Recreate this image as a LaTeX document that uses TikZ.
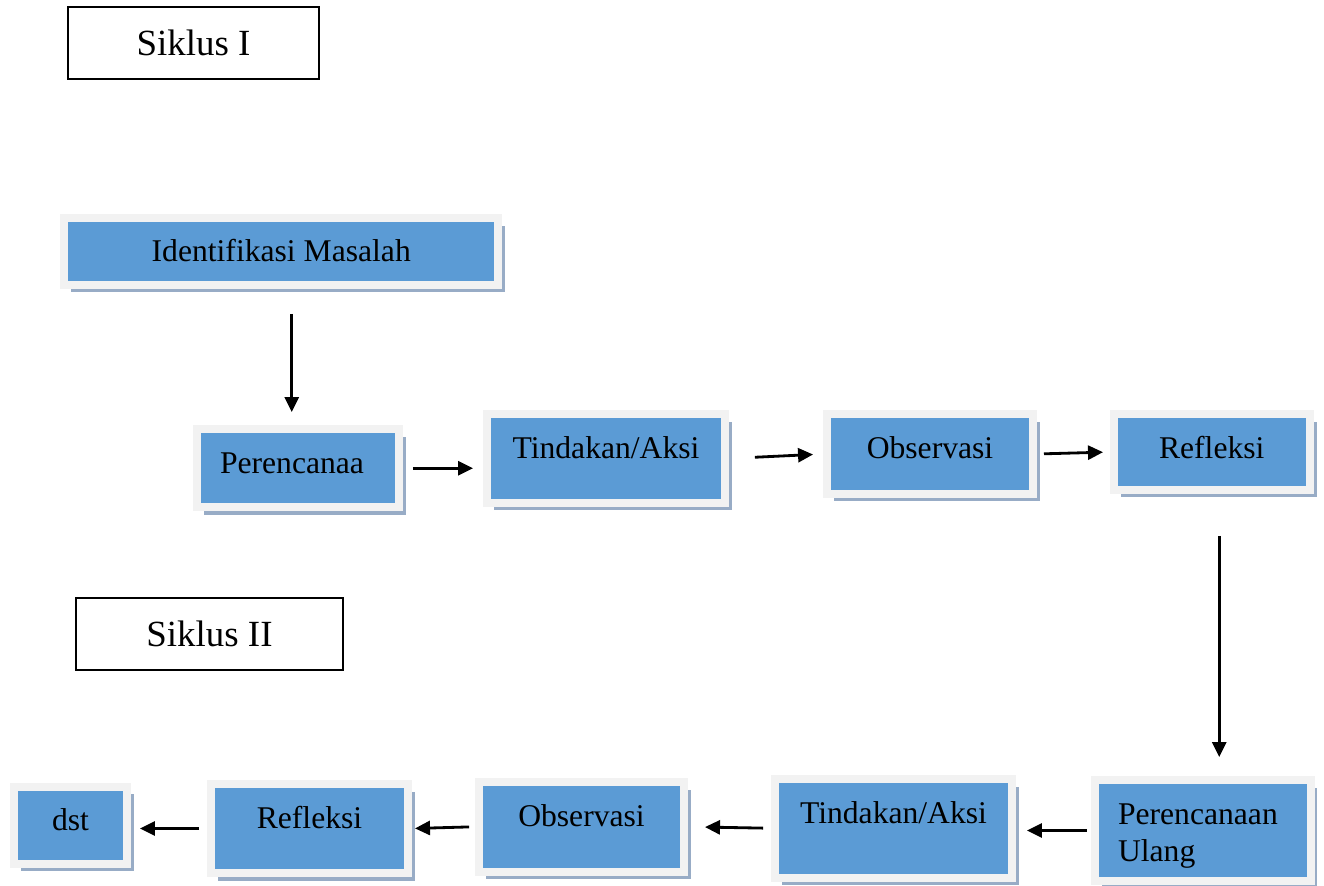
\documentclass[tikz,border=0pt]{standalone}
\usepackage{fontspec}
\setmainfont{Liberation Serif}
\usetikzlibrary{arrows.meta, shadows}

\begin{document}
\begin{tikzpicture}[x=0.02cm, y=-0.02cm,
    box/.style={rectangle, draw=boxframe, line width=0.16cm, fill=boxblue,
      inner ysep=0pt, text height=0.88cm, font=\fontsize{18}{21.6}\selectfont,
      drop shadow={shadow xshift=0.14cm, shadow yshift=-0.15cm, fill=boxshadow, opacity=1}},
    boxleft/.style={box, align=left, inner xsep=0.47cm},
    cycle/.style={rectangle, draw, line width=0.8pt, fill=white, minimum height=1.44cm,
      font=\fontsize{21}{25}\selectfont},
    arr/.style={-{Triangle[length=0.3cm, width=0.28cm]}, line width=1.6pt}]
  % Colours of the boxes
  \definecolor{boxblue}{RGB}{91,155,213}     % Blue fill
  \definecolor{boxframe}{RGB}{242,242,242}   % Light grey frame
  \definecolor{boxshadow}{RGB}{152,172,198}  % Grey-blue shadow

  \useasboundingbox (0,0) rectangle (1324,885);

  % Cycle titles
  \node[cycle, minimum width=5.02cm] (siklus1) at (193.5,43) {Siklus I};
  \node[cycle, minimum width=5.34cm] (siklus2) at (209.5,634) {Siklus II};

  % Cycle I
  \node[box, minimum width=8.69cm, text depth=0.46cm] (ident) at (281.25,251.5) {Identifikasi Masalah};
  \node[boxleft, text width=3.11cm, text depth=0.69cm] (perenc) at (297.75,468.25) {Perencanaa};
  \node[box, minimum width=4.76cm, text depth=0.9cm] (tind1) at (606,458.5) {Tindakan/Aksi};
  \node[box, minimum width=4.12cm, text depth=0.72cm] (obs1) at (930,454) {Observasi};
  \node[box, minimum width=3.91cm, text depth=0.64cm] (refl1) at (1211.75,452) {Refleksi};

  % Cycle II
  \node[boxleft, text width=3.38cm, text depth=1.14cm] (ulang) at (1202.5,830.5) {Perencanaan\\Ulang};
  \node[box, minimum width=4.74cm, text depth=1.09cm] (tind2) at (893.5,828.25) {Tindakan/Aksi};
  \node[box, minimum width=4.1cm, text depth=0.91cm] (obs2) at (581.5,826.75) {Observasi};
  \node[box, minimum width=3.94cm, text depth=0.9cm] (refl2) at (309.5,828.5) {Refleksi};
  \node[box, minimum width=2.26cm, text depth=0.66cm] (dst) at (70.5,825) {dst};

  % Arrows of cycle I
  \draw[arr, shorten <=0.5cm, shorten >=0.26cm] ([xshift=-0.12cm]perenc.north |- ident.south) -- ([xshift=-0.12cm]perenc.north);
  \draw[arr, shorten <=0.2cm, shorten >=0.2cm] (perenc.east) -- (perenc.east -| tind1.west);
  \draw[arr, shorten <=0.52cm, shorten >=0.2cm] (tind1.east) -- (obs1.west);
  \draw[arr, shorten <=0.14cm, shorten >=0.14cm] (obs1.east) -- (refl1.west);
  \draw[arr, shorten <=0.84cm, shorten >=0.38cm] ([xshift=0.15cm]refl1.south) -- ([xshift=0.15cm]refl1.south |- ulang.north);

  % Arrows of cycle II
  \draw[arr, shorten <=0.08cm, shorten >=0.22cm] (ulang.west) -- (ulang.west -| tind2.east);
  \draw[arr, shorten <=0.16cm, shorten >=0.34cm] (tind2.west) -- (obs2.east);
  \draw[arr, shorten <=0.12cm, shorten >=0.06cm] (obs2.west) -- (refl2.east);
  \draw[arr, shorten <=0.16cm, shorten >=0.18cm] (refl2.west) -- (refl2.west -| dst.east);
\end{tikzpicture}
\end{document}
